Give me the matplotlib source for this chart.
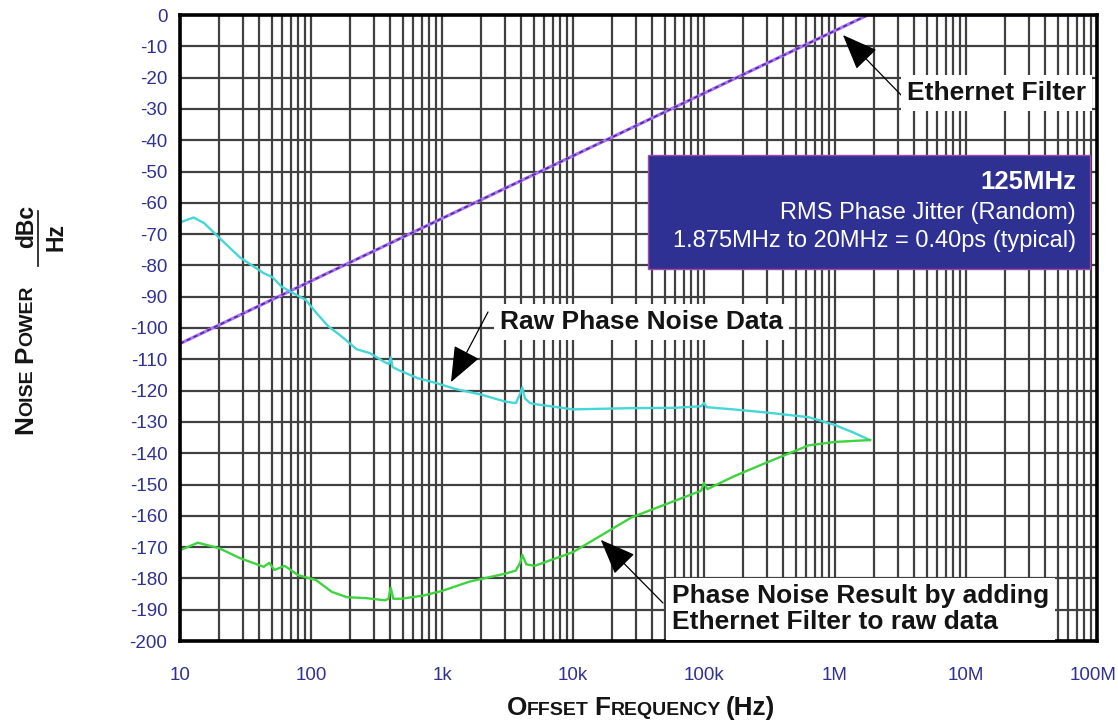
import matplotlib
matplotlib.use('Agg')
import matplotlib.pyplot as plt
from matplotlib.ticker import LogLocator, NullFormatter
from matplotlib.patches import Rectangle
import matplotlib.transforms as mtransforms

# ---------------- data ----------------
raw_f = [10, 10.4, 12.7, 15.3, 20.9, 28.6, 43.6, 50.5, 59.7, 72, 91, 109, 135, 170,
         223, 281, 368, 395, 406, 420, 464, 649, 905, 1270, 2000, 3030, 3660, 3950,
         4100, 4300, 4700, 5100, 10000, 28000, 60000, 95000, 100000, 105000, 167000,
         300000, 630000, 1000000, 1400000, 1850000]
raw_db = [-66.5, -66, -64.7, -66.5, -72, -77.4, -82.5, -83.7, -86.8, -88.7, -91, -95,
          -99.4, -102.6, -106.8, -108, -111, -111.5, -109.3, -112.5, -113.4, -116,
          -117.6, -119.5, -121.3, -123.5, -124, -121, -119, -122.5, -124, -124.3,
          -126, -125.6, -125.5, -125, -124, -125.3, -126, -127, -128.5, -131, -133.5,
          -135.8]

result_f = [10, 10.4, 13.7, 20, 28.6, 43.6, 48, 52.5, 63, 80, 109, 144, 188, 263, 368,
            390, 406, 425, 488, 717, 1000, 1630, 3030, 3660, 3950, 4100, 4400, 5100,
            10000, 28000, 95000, 100000, 106000, 167000, 300000, 630000, 1000000,
            1850000]
result_db = [-171, -170.7, -168.6, -170.4, -173.5, -176.3, -175, -177.3, -176, -179,
             -180.5, -184.3, -186, -186.3, -187, -186.5, -183, -186.5, -186.5, -185.5,
             -184, -181, -178.5, -177.5, -175, -172.5, -175.5, -176, -171.6, -160.5,
             -152, -149.5, -151.5, -147.5, -143, -137.5, -136.4, -135.8]

filter_f = [10, 1.78e6, 1e8]
filter_db = [-105, 0, 0]

xticks = [10, 100, 1e3, 1e4, 1e5, 1e6, 1e7, 1e8]
xticklabels = ['10', '100', '1k', '10k', '100k', '1M', '10M', '100M']
yticks = list(range(0, -201, -10))
yticklabels = [str(v) for v in yticks]

FONT = 'Liberation Sans'
NAVY = '#2e3192'
INK = '#141414'

# ---------------- figure ----------------
W, H = 1118, 723
fig = plt.figure(figsize=(W / 100, H / 100), dpi=100)
fig.patch.set_facecolor('white')
ax = fig.add_axes([180 / W, 1 - 641 / H, (1097 - 180) / W, (641 - 15) / H])
ax.set_xscale('log')
ax.set_xlim(10, 1e8)
ax.set_ylim(-200, 0)

ax.plot(filter_f, filter_db, color='#a877ee', lw=2.3, solid_capstyle='butt', zorder=3)
ax.plot(filter_f, filter_db, color='#5522a8', lw=1.2, ls=(0, (2.5, 2)), zorder=3)
ax.plot(raw_f, raw_db, color='#45d6d6', lw=1.7, zorder=3)
ax.plot(result_f, result_db, color='#3fd43f', lw=1.7, zorder=3)

ax.set_xticks(xticks)
ax.set_xticklabels(xticklabels)
ax.xaxis.set_minor_locator(LogLocator(base=10, subs=range(2, 10), numticks=100))
ax.xaxis.set_minor_formatter(NullFormatter())
ax.set_yticks(yticks)
ax.set_yticklabels(yticklabels)
ax.tick_params(which='both', length=0)
ax.tick_params(axis='x', pad=19, labelsize=13.5, labelcolor=NAVY)
ax.tick_params(axis='y', pad=9, labelsize=13.5, labelcolor=NAVY)
for lab in ax.get_xticklabels() + ax.get_yticklabels():
    lab.set_fontfamily(FONT)

gcol = (0.25, 0.25, 0.25, 0.42)
ax.grid(which='both', axis='x', color=gcol, lw=1.6)
ax.grid(which='major', axis='y', color=gcol, lw=1.6)
ax.set_axisbelow(True)
for s in ax.spines.values():
    s.set_linewidth(2.6)
    s.set_color('black')
    s.set_zorder(5)

lbls = ax.get_xticklabels()
lbls[-1].set_transform(lbls[-1].get_transform() +
                       mtransforms.ScaledTranslation(-4 / 100, 0, fig.dpi_scale_trans))


def fp(x, y):
    """figure-pixel coords from a top-left pixel position"""
    return (x, H - y)


# ---------------- info box ----------------
fig.add_artist(Rectangle((648 / W, 1 - 269 / H), (1090 - 648) / W, (269 - 155) / H,
                         transform=fig.transFigure, facecolor=NAVY,
                         edgecolor='#a04aa8', lw=1.0, zorder=6))
fig.text(1076 / W, 1 - 189 / H, '125MHz', color='white', fontsize=18.5,
         fontweight='bold', family=FONT, ha='right', va='baseline', zorder=7)
fig.text(1076 / W, 1 - 219 / H, 'RMS Phase Jitter (Random)', color='white',
         fontsize=17, family=FONT, ha='right', va='baseline', zorder=7)
fig.text(1076 / W, 1 - 247 / H, '1.875MHz to 20MHz = 0.40ps (typical)',
         color='white', fontsize=17, family=FONT, ha='right', va='baseline', zorder=7)

# ---------------- annotations ----------------
box = dict(facecolor='white', edgecolor='none', pad=4)
fig.text(907 / W, 1 - 100 / H, 'Ethernet Filter', fontsize=19, fontweight='bold',
         family=FONT, ha='left', va='baseline', bbox=box, zorder=7, color=INK)
fig.text(500 / W, 1 - 329 / H, 'Raw Phase Noise Data', fontsize=19, fontweight='bold',
         family=FONT, ha='left', va='baseline', bbox=box, zorder=7, color=INK)
fig.text(672 / W, 1 - 629 / H, 'Phase Noise Result by adding\nEthernet Filter to raw data',
         fontsize=19, fontweight='bold', family=FONT, ha='left', va='baseline',
         linespacing=1.12, bbox=box, zorder=7, color=INK)

arrow = dict(arrowstyle='-|>,head_length=1.5,head_width=0.6', color='black', lw=0.9,
             mutation_scale=15, shrinkA=0, shrinkB=0)
ax.annotate('', xy=(1.15e6, -6.4), xycoords='data', xytext=fp(903, 97),
            textcoords='figure pixels', arrowprops=arrow, zorder=8, annotation_clip=False)
ax.annotate('', xy=(1170, -117.3), xycoords='data', xytext=fp(488, 312),
            textcoords='figure pixels', arrowprops=arrow, zorder=8, annotation_clip=False)
ax.annotate('', xy=(16300, -167.7), xycoords='data', xytext=fp(663, 603),
            textcoords='figure pixels', arrowprops=arrow, zorder=8, annotation_clip=False)

# ---------------- axis titles (small caps) ----------------
renderer = fig.canvas.get_renderer()
dpi_px = 100 / 72.0


def piece_width(s, size):
    t = fig.text(0, 0, s, fontsize=size, fontweight='bold', family=FONT)
    bb = t.get_window_extent(renderer)
    t.remove()
    return bb.width


def measure(pieces):
    return [piece_width(s, size) if s.strip() else 0.278 * size * dpi_px
            for s, size in pieces]


def smallcaps_h(pieces, xc, yb):
    widths = measure(pieces)
    x = xc - sum(widths) / 2
    for (s, size), w in zip(pieces, widths):
        if s.strip():
            fig.text(x / W, 1 - yb / H, s, fontsize=size, fontweight='bold', family=FONT,
                     ha='left', va='baseline', color=INK)
        x += w


def smallcaps_v(pieces, xb, yc):
    widths = measure(pieces)
    y = yc + sum(widths) / 2
    for (s, size), w in zip(pieces, widths):
        if s.strip():
            fig.text(xb / W, 1 - y / H, s, fontsize=size, fontweight='bold', family=FONT,
                     ha='left', va='baseline', rotation=90, rotation_mode='anchor',
                     color=INK)
        y -= w


BIG, SMALL = 18.8, 14
smallcaps_h([('O', BIG), ('FFSET', SMALL), (' ', SMALL), ('F', BIG), ('REQUENCY', SMALL),
             (' ', SMALL), ('(Hz)', BIG)], 641, 715)
smallcaps_v([('N', BIG), ('OISE', SMALL), (' ', SMALL), ('P', BIG), ('OWER', SMALL)],
            32, 360)

# dBc / Hz fraction
FR = 16.5
wd = piece_width('dBc', FR)
wh = piece_width('Hz', FR)
fig.text(33 / W, 1 - (226 + wd / 2) / H, 'dBc', fontsize=FR, fontweight='bold',
         family=FONT, rotation=90, rotation_mode='anchor', ha='left', va='baseline',
         color=INK)
fig.text(62 / W, 1 - (237 + wh / 2) / H, 'Hz', fontsize=FR, fontweight='bold',
         family=FONT, rotation=90, rotation_mode='anchor', ha='left', va='baseline',
         color=INK)
fig.add_artist(plt.Line2D([38 / W, 38 / W], [1 - 211 / H, 1 - 266 / H],
                          transform=fig.transFigure, color=INK, lw=1.2))

fig.savefig('out.png', dpi=100, facecolor='white')
